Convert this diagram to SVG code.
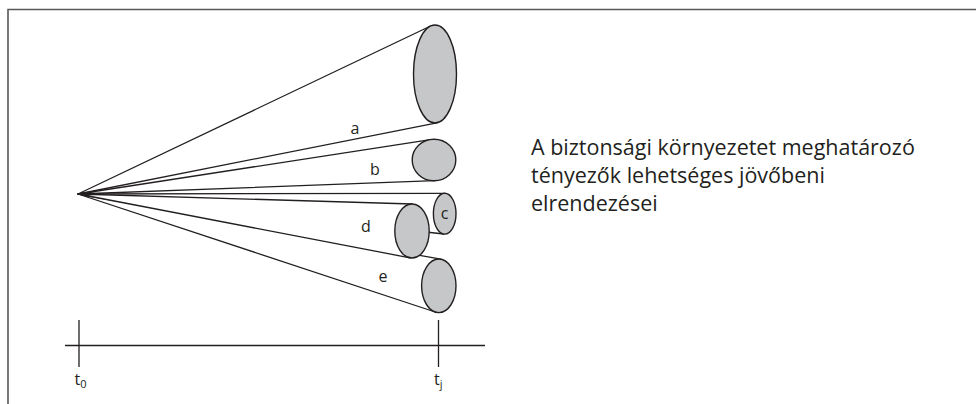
<svg xmlns="http://www.w3.org/2000/svg" width="976" height="404" viewBox="0 0 976 404">
<style>
.frame{fill:none;stroke:#58585a;stroke-width:1.6}
.cone{fill:#ffffff;stroke:none}
.cl{fill:none;stroke:#231f20;stroke-width:1.3;stroke-linecap:round}
.el{fill:#c6c7c9;stroke:#231f20;stroke-width:1.4}
.ax{fill:none;stroke:#231f20;stroke-width:1.3}
text{font-family:"Open Sans","Noto Sans",sans-serif;fill:#231f20}
.lb{font-size:16px;text-anchor:middle}
.cap{font-size:21.5px}
</style>
<rect width="976" height="404" fill="#ffffff"/>
<path class="frame" d="M8,404 V9.5 H976"/>
<g id="connectors">
<g id="cone-a"><path class="cone" d="M78,194 L430.6,26 L436.9,122.8 Z"/><path class="cl" d="M78,194 L430.6,26 M78,194 L436.9,122.8"/></g>
<g id="cone-b"><path class="cone" d="M78,194 L430.5,139.6 L434.9,180.7 Z"/><path class="cl" d="M78,194 L430.5,139.6 M78,194 L434.9,180.7"/></g>
</g>
<g id="node-a"><ellipse class="el" cx="435" cy="74" rx="21.5" ry="49"/><text class="lb" x="355" y="134">a</text></g>
<g id="node-b"><ellipse class="el" cx="434" cy="160" rx="21.8" ry="20.7"/><text class="lb" x="375" y="175">b</text></g>
<g id="node-c">
<path class="cone" d="M78,194 L444.7,193.3 L444,234 Z"/><path class="cl" d="M78,194 L444.7,193.3 M78,194 L444,234"/>
<ellipse class="el" cx="444.7" cy="213.7" rx="11.3" ry="20.4"/><text class="lb" x="444.5" y="219">c</text></g>
<g id="node-e">
<path class="cone" d="M78,194 L440.8,259.2 L435.2,312 Z"/><path class="cl" d="M78,194 L440.8,259.2 M78,194 L435.2,312"/>
<ellipse class="el" cx="438.8" cy="285.8" rx="17.2" ry="26.8"/><text class="lb" x="383" y="282">e</text></g>
<g id="node-d">
<path class="cone" d="M78,194 L412.3,204 L409.9,257.8 Z"/><path class="cl" d="M78,194 L412.3,204 M78,194 L409.9,257.8"/>
<ellipse class="el" cx="412" cy="231" rx="17.2" ry="27"/><text class="lb" x="366" y="232">d</text></g>
<g id="timeline">
<path class="ax" d="M65,345.5 H485 M79,320 V367 M438.5,320 V367"/>
<text x="74.5" y="385" font-size="16">t<tspan font-size="11" dy="3">0</tspan></text>
<text x="434" y="385" font-size="16">t<tspan font-size="11" dy="3">j</tspan></text>
</g>
<g id="caption">
<text class="cap" x="531" y="155">A biztonsági környezetet meghatározó</text>
<text class="cap" x="531" y="183">tényezők lehetséges jövőbeni</text>
<text class="cap" x="531" y="211">elrendezései</text>
</g>
</svg>
